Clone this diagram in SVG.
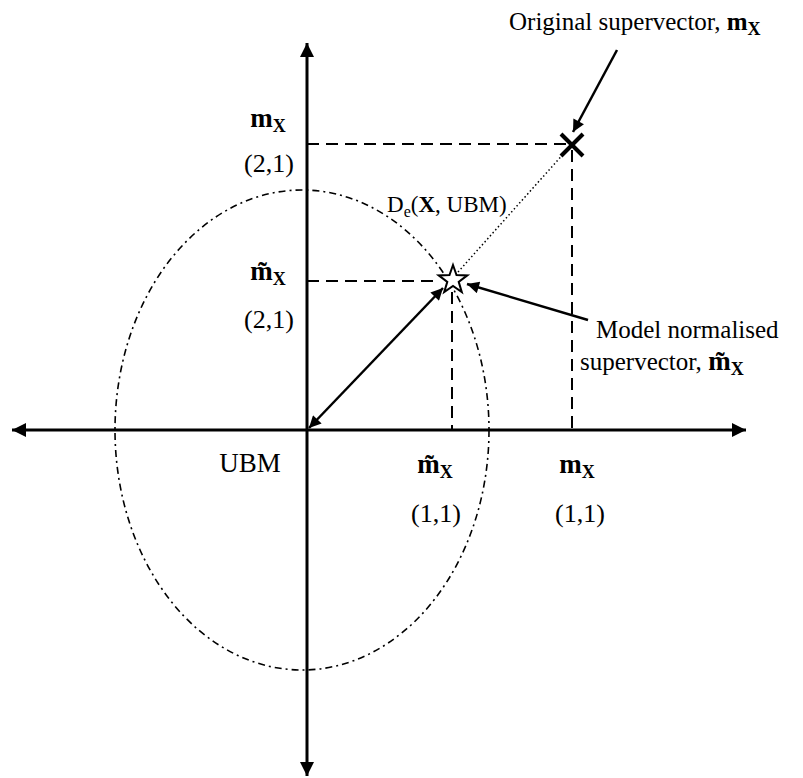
<svg xmlns="http://www.w3.org/2000/svg" width="803" height="778" viewBox="0 0 803 778">
<style>
text{font-family:"Liberation Serif","Times New Roman",serif;fill:#000}
.lbl{font-size:25px}
.num{font-size:26px}
.b{font-weight:bold}
.m{font-weight:bold;font-size:27px}
.x{font-weight:bold;font-size:18px}
.axis{stroke:#000;stroke-width:3;fill:none}
.dash{stroke:#000;stroke-width:2;stroke-dasharray:12 7;fill:none}
.arr{stroke:#000;stroke-width:2.5;fill:none}
</style>
<defs>
<marker id="big" viewBox="0 0 10 10" refX="10" refY="5" markerWidth="16" markerHeight="14" markerUnits="userSpaceOnUse" orient="auto-start-reverse"><path d="M0,0 L10,5 L0,10 z" fill="#000"/></marker>
<marker id="sm" viewBox="0 0 10 10" refX="10" refY="5" markerWidth="15" markerHeight="12" markerUnits="userSpaceOnUse" orient="auto-start-reverse"><path d="M0,0 L10,5 L0,10 z" fill="#000"/></marker>
</defs>
<g id="ellipse">
<ellipse cx="302" cy="430" rx="187" ry="240" fill="none" stroke="#000" stroke-width="1.6" stroke-dasharray="7 4 2 4"/>
</g>
<g id="axes">
<line class="axis" x1="12" y1="430" x2="746" y2="430" marker-start="url(#big)" marker-end="url(#big)"/>
<line class="axis" x1="307" y1="43" x2="307" y2="776" marker-start="url(#big)" marker-end="url(#big)"/>
</g>
<g id="connectors">
<line class="dash" x1="307" y1="144" x2="572" y2="144"/>
<line class="dash" x1="572" y1="150" x2="572" y2="430"/>
<line class="dash" x1="307" y1="281" x2="440" y2="281"/>
<line class="dash" x1="452" y1="292" x2="452" y2="430"/>
<line x1="458" y1="272" x2="566" y2="151" stroke="#000" stroke-width="1.5" stroke-dasharray="1.5 2.5"/>
<line class="arr" x1="443" y1="288" x2="309" y2="428" marker-start="url(#sm)" marker-end="url(#sm)"/>
<line class="arr" x1="588" y1="320" x2="467" y2="284" marker-end="url(#sm)"/>
<line class="arr" x1="617" y1="50" x2="573" y2="132" marker-end="url(#sm)"/>
</g>
<g id="orig-point">
<line x1="561" y1="134" x2="583" y2="156" stroke="#000" stroke-width="4"/>
<line x1="583" y1="134" x2="561" y2="156" stroke="#000" stroke-width="4"/>
</g>
<g id="norm-point">
<polygon points="453,265 456.5,275.1 467.3,275.4 458.7,281.9 461.8,292.1 453,286 444.2,292.1 447.3,281.9 438.7,275.4 449.5,275.1" fill="#fff" stroke="#000" stroke-width="2" stroke-linejoin="miter"/>
</g>
<g id="labels">
<text class="lbl" x="509" y="30">Original supervector, <tspan class="b">m</tspan><tspan class="x" font-size="17" dy="5">X</tspan></text>
<text x="268" y="127" text-anchor="middle"><tspan class="m">m</tspan><tspan class="x" dy="5">X</tspan></text>
<text class="num" x="269" y="172" text-anchor="middle">(2,1)</text>
<text x="268" y="280" text-anchor="middle"><tspan class="m">m&#x303;</tspan><tspan class="x" dy="5">X</tspan></text>
<text class="num" x="269" y="328" text-anchor="middle">(2,1)</text>
<text font-size="23" x="387" y="212">D<tspan font-size="16" dy="5">e</tspan><tspan dy="-5">(</tspan><tspan class="b">X</tspan>, UBM)</text>
<text class="lbl" x="596" y="338">Model normalised</text>
<text class="lbl" x="580" y="370">supervector, <tspan class="m">m&#x303;</tspan><tspan class="x" dy="5">X</tspan></text>
<text font-size="27" x="250" y="472" text-anchor="middle">UBM</text>
<text x="435" y="473" text-anchor="middle"><tspan class="m">m&#x303;</tspan><tspan class="x" dy="5">X</tspan></text>
<text class="num" x="436" y="522" text-anchor="middle">(1,1)</text>
<text x="577" y="473" text-anchor="middle"><tspan class="m">m</tspan><tspan class="x" dy="5">X</tspan></text>
<text class="num" x="580" y="522" text-anchor="middle">(1,1)</text>
</g>
</svg>
